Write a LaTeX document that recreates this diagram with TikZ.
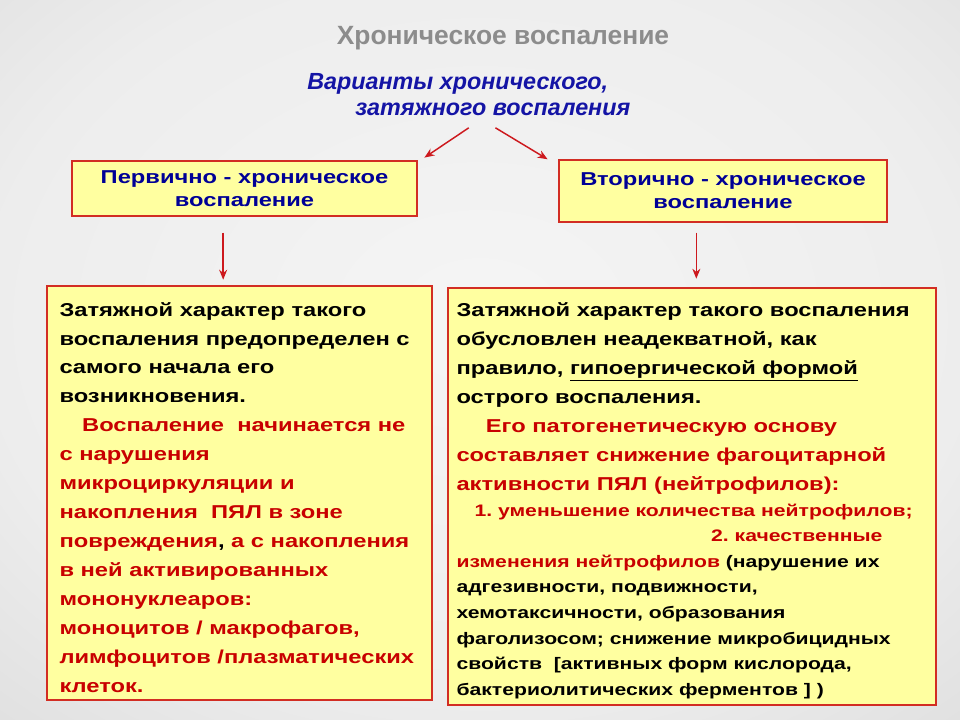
\documentclass[tikz,border=0pt]{standalone}
\usepackage{fontspec}
\setmainfont{Liberation Sans}
\newfontfamily\widefont{Liberation Sans}[FakeStretch=1.27]
\usetikzlibrary{arrows.meta,positioning}
\definecolor{titlegray}{RGB}{140,140,140}
\definecolor{navy}{RGB}{20,20,165}
\definecolor{boxnavy}{RGB}{0,0,150}
\definecolor{boxred}{RGB}{210,45,35}
\definecolor{boxfill}{RGB}{255,255,160}
\definecolor{txtred}{RGB}{200,0,0}
\definecolor{arrred}{RGB}{205,25,30}
\pgfdeclareradialshading{slidebg}{\pgfpoint{0bp}{0bp}}{%
  color(0bp)=(black!4); color(18bp)=(black!7); color(32bp)=(black!15);
  color(42bp)=(black!28); color(56bp)=(black!46)}
\newcommand{\rd}[1]{\textcolor{txtred}{#1}}
\frenchspacing
\tikzset{
  frame/.style={draw=boxred, fill=boxfill, line width=1.1pt, inner sep=0pt},
  headtext/.style={font=\widefont\bfseries\fontsize{14}{17.5}\selectfont, text=boxnavy, align=center},
  bodytext/.style={font=\widefont\bfseries\fontsize{14}{21.7}\selectfont, align=left, inner sep=0pt, anchor=north west},
  bodysmall/.style={bodytext, font=\widefont\bfseries\fontsize{12.5}{19.2}\selectfont},
  redline/.style={draw=arrred, line width=1.1pt, -{Stealth[length=7.5pt,width=6pt]}},
}

\begin{document}
\begin{tikzpicture}[x=0.75pt, y=-0.75pt]
  \begin{scope}
    \clip (0,0) rectangle (960,720);
    \shade[shading=slidebg] (-200,-190) rectangle (1160,830);
  \end{scope}
  \useasboundingbox (0,0) rectangle (960,720);

  \node[font=\bfseries\fontsize{19.8}{22}\selectfont, text=titlegray] (title) at (503,38) {Хроническое воспаление};
  \node[font=\bfseries\itshape\fontsize{17.5}{19.5}\selectfont, text=navy, align=left, anchor=north west, inner sep=0pt]
    (sub) at (307,73) {Варианты хронического,\\\hspace*{36pt}затяжного воспаления};

  \node[frame, headtext, minimum width=258.75pt, minimum height=41.25pt] (prim) at (244.5,188.5)
    {Первично - хроническое\\воспаление};
  \node[frame, headtext, minimum width=246pt, minimum height=46.5pt] (sec) at (723,191)
    {Вторично - хроническое\\воспаление};

  \node[frame, minimum width=288.75pt, minimum height=310.5pt] (lbox) at (239.5,493) {};
  \node[frame, minimum width=366pt, minimum height=312.75pt] (rbox) at (692,496.5) {};

  \coordinate[below left=9pt and 0pt of sub.south] (forkL);
  \coordinate[below right=9pt and 20pt of sub.south] (forkR);
  \draw[redline] (forkL) -- ([xshift=5pt,yshift=2pt]prim.north east);
  \draw[redline] (forkR) -- ([xshift=-8pt]sec.north west);
  \draw[redline] ([xshift=-16pt,yshift=-12pt]prim.south) -- ++(0,47);
  \draw[redline] ([xshift=-20pt,yshift=-7.5pt]sec.south) -- ++(0,46);

  \node[bodytext] (ltxt) at ([xshift=9.75pt,yshift=-12.5pt]lbox.north west) {%
    Затяжной характер такого\\
    воспаления предопределен с\\
    самого начала его\\
    возникновения.\\
    \hspace*{17pt}\rd{Воспаление\ \ начинается не}\\
    \rd{с нарушения}\\
    \rd{микроциркуляции и}\\
    \rd{накопления\ \ ПЯЛ в зоне}\\
    \rd{повреждения}, \rd{а с накопления}\\
    \rd{в ней активированных}\\
    \rd{мононуклеаров:}\\
    \rd{моноцитов / макрофагов,}\\
    \rd{лимфоцитов /плазматических}\\
    \rd{клеток.}};

  \node[bodytext] (rtop) at ([xshift=6.75pt,yshift=-11.25pt]rbox.north west) {%
    Затяжной характер такого воспаления\\
    обусловлен неадекватной, как\\
    правило, \underline{гипоергической формой}\\
    острого воспаления.\\
    \hspace*{22pt}\rd{Его патогенетическую основу}\\
    \rd{составляет снижение фагоцитарной}\\
    \rd{активности ПЯЛ (нейтрофилов):}};
  \node[bodysmall, below right=7pt and 0pt of rtop.south west] (rbot) {%
    \hspace*{13.5pt}\rd{1. уменьшение количества нейтрофилов;}\\
    \hspace*{191pt}\rd{2. качественные}\\
    \rd{изменения нейтрофилов} (нарушение их\\
    адгезивности, подвижности,\\
    хемотаксичности, образования\\
    фаголизосом; снижение микробицидных\\
    свойств\ \ [активных форм кислорода,\\
    бактериолитических ферментов ] )};
\end{tikzpicture}
\end{document}
